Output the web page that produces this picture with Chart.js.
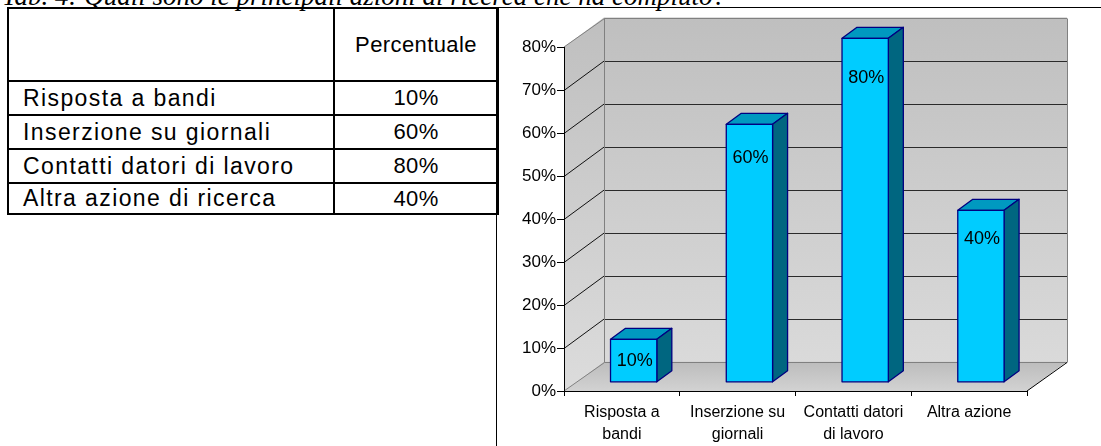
<!DOCTYPE html>
<html>
<head>
<meta charset="utf-8">
<script src="https://cdn.jsdelivr.net/npm/chart.js@4.4.1/dist/chart.umd.min.js"></script>
<style>
    body { margin: 0; width: 1101px; height: 446px; overflow: hidden; background: #fff; position: relative; }
    #title { position: absolute; left: 2px; top: -19px; font: italic 27px 'Liberation Serif', 'Times New Roman', serif; white-space: nowrap; color: #000; }
    #topLine { position: absolute; left: 497px; right: 0; top: 7px; border-top: 1px solid #000; }
    #frameLine { position: absolute; left: 496px; top: 8px; height: 438px; border-left: 1px solid #000; }
    #tab { position: absolute; left: 7px; top: 7px; border-collapse: collapse; table-layout: fixed; font: 22px 'Liberation Sans', Arial, sans-serif; color: #000; }
    #tab td { border: 2px solid #000; padding: 0; vertical-align: middle; white-space: nowrap; }
    #tab td.name { padding-left: 14px; font-size: 23px; letter-spacing: 1.4px; }
    #tab td.val { text-align: center; letter-spacing: 0.4px; }
    #chartBox { position: absolute; left: 497px; top: 8px; width: 604px; height: 438px; }
</style>
</head>
<body>
<div id="title"></div>
<div id="topLine"></div>
<table id="tab"></table>
<div id="frameLine"></div>
<div id="chartBox"><canvas id="myChart" width="604" height="438"></canvas></div>

<script>
const TITLE = 'Tab. 4: Quali sono le principali azioni di ricerca che ha compiuto?'
const columnHeader = 'Percentuale'
const tableRows = ['Risposta a bandi', 'Inserzione su giornali', 'Contatti datori di lavoro', 'Altra azione di ricerca']
const categories = [['Risposta a', 'bandi'], ['Inserzione su', 'giornali'], ['Contatti datori', 'di lavoro'], ['Altra azione']]
const percentValues = [10, 60, 80, 40]
const yTicks = [0, 10, 20, 30, 40, 50, 60, 70, 80]

document.getElementById('title').textContent = TITLE

// build the table on the left
let tab = document.getElementById('tab')
let html = '<colgroup><col style="width:326px"><col style="width:164px"></colgroup>'
html += '<tr style="height:73px"><td></td><td class="val">' + columnHeader + '</td></tr>'
for (let i = 0; i < tableRows.length; i++) {
    let h = i === tableRows.length - 1 ? 31 : 34
    html += '<tr style="height:' + h + 'px"><td class="name">' + tableRows[i] + '</td><td class="val">' + percentValues[i] + '%</td></tr>'
}
tab.innerHTML = html

// 3d look: walls, floor and boxes
const WALL_DX = 40
const WALL_DY = 29.4
const BAR_SHIFT_X = 11.8
const BAR_SHIFT_Y = 8.7
const BAR_DX = 15
const BAR_DY = 11
const FONT = '"Liberation Sans", Arial, sans-serif'

function poly(ctx, pts, fill, stroke) {
    ctx.beginPath()
    ctx.moveTo(pts[0][0], pts[0][1])
    for (let i = 1; i < pts.length; i++) ctx.lineTo(pts[i][0], pts[i][1])
    ctx.closePath()
    if (fill) { ctx.fillStyle = fill; ctx.fill() }
    if (stroke) { ctx.strokeStyle = stroke; ctx.stroke() }
}

function line(ctx, x1, y1, x2, y2, color) {
    ctx.beginPath()
    ctx.moveTo(x1, y1)
    ctx.lineTo(x2, y2)
    ctx.strokeStyle = color
    ctx.stroke()
}

const walls3d = {
    id: 'walls3d',
    beforeDraw(chart) {
        const ctx = chart.ctx
        const ys = chart.scales.y
        const left = chart.chartArea.left
        const right = chart.chartArea.right
        const top = ys.getPixelForValue(yTicks[yTicks.length - 1])
        const bottom = ys.getPixelForValue(0)
        ctx.save()
        ctx.lineWidth = 1

        let g = ctx.createLinearGradient(0, top - WALL_DY, 0, bottom)
        g.addColorStop(0, '#bfbfbf')
        g.addColorStop(1, '#dcdcdc')
        // side wall
        poly(ctx, [[left, top], [left + WALL_DX, top - WALL_DY], [left + WALL_DX, bottom - WALL_DY], [left, bottom]], g)
        // back wall
        poly(ctx, [[left + WALL_DX, top - WALL_DY], [right + WALL_DX, top - WALL_DY], [right + WALL_DX, bottom - WALL_DY], [left + WALL_DX, bottom - WALL_DY]], g)
        // floor
        let fg = ctx.createLinearGradient(0, bottom - WALL_DY, 0, bottom)
        fg.addColorStop(0, '#bcbcbc')
        fg.addColorStop(1, '#d2d2d2')
        poly(ctx, [[left, bottom], [right, bottom], [right + WALL_DX, bottom - WALL_DY], [left + WALL_DX, bottom - WALL_DY]], fg)

        // grid lines on the walls
        yTicks.forEach(function (v) {
            if (v === 0 || v === yTicks[yTicks.length - 1]) return
            let py = Math.round(ys.getPixelForValue(v)) + 0.5
            line(ctx, left, py, left + WALL_DX, py - WALL_DY, '#111')
            line(ctx, left + WALL_DX, Math.round(py - WALL_DY) + 0.5, right + WALL_DX, Math.round(py - WALL_DY) + 0.5, '#2a2a2a')
        })

        // edges
        let bx = Math.round(left + WALL_DX) + 0.5
        let tY = Math.round(top - WALL_DY) + 0.5
        let bY = Math.round(bottom - WALL_DY) + 0.5
        line(ctx, left, top, bx, tY, '#808080')
        line(ctx, bx, tY, right + WALL_DX, tY, '#808080')
        line(ctx, Math.round(right + WALL_DX) + 0.5, tY, Math.round(right + WALL_DX) + 0.5, bY, '#808080')
        line(ctx, bx, tY, bx, bY, '#808080')
        line(ctx, bx, bY, right + WALL_DX, bY, '#808080')
        line(ctx, left, bottom, bx, bY, '#808080')
        line(ctx, right, bottom, right + WALL_DX, bY, '#000')
        ctx.restore()
    },
    afterDatasetsDraw(chart) {
        const ctx = chart.ctx
        const meta = chart.getDatasetMeta(0)
        ctx.save()
        ctx.lineWidth = 1.3
        ctx.lineJoin = 'round'
        meta.data.forEach(function (bar, i) {
            let w = bar.width
            let x0 = bar.x - w / 2 + BAR_SHIFT_X
            let top = bar.y - BAR_SHIFT_Y
            let base = bar.base - BAR_SHIFT_Y
            // top face
            poly(ctx, [[x0, top], [x0 + w, top], [x0 + w + BAR_DX, top - BAR_DY], [x0 + BAR_DX, top - BAR_DY]], '#0099c0', '#000080')
            // side face
            poly(ctx, [[x0 + w, top], [x0 + w + BAR_DX, top - BAR_DY], [x0 + w + BAR_DX, base - BAR_DY], [x0 + w, base]], '#006680', '#000080')
            // front face
            poly(ctx, [[x0, top], [x0 + w, top], [x0 + w, base], [x0, base]], '#00ccff', '#000080')

            // value label, sits lower on taller bars
            ctx.fillStyle = '#000'
            ctx.font = '18px ' + FONT
            ctx.textAlign = 'center'
            ctx.textBaseline = 'middle'
            ctx.fillText(percentValues[i] + '%', x0 + w / 2 + 1, top + 18.7 + 0.258 * percentValues[i])
        })
        ctx.restore()
    }
}

let ctx = document.getElementById('myChart')
let myChart = new Chart(ctx, {
    type: 'bar',
    data: {
        labels: categories,
        datasets: [{
            data: percentValues,
            backgroundColor: 'rgba(0,0,0,0)',
            borderWidth: 0,
            barPercentage: 0.4,
            categoryPercentage: 1
        }]
    },
    options: {
        responsive: false,
        animation: false,
        devicePixelRatio: 1,
        layout: { padding: { top: 39, right: 74, left: 0, bottom: 0 } },
        plugins: { legend: { display: false }, tooltip: { enabled: false } },
        scales: {
            y: {
                min: 0,
                max: 80,
                afterFit: function (s) { s.width = 67 },
                afterBuildTicks: function (s) { s.ticks = yTicks.map(v => ({ value: v })) },
                ticks: {
                    callback: v => v + '%',
                    color: '#000',
                    padding: 1,
                    font: { family: FONT, size: 17 }
                },
                grid: { drawOnChartArea: false, tickLength: 7, color: '#000' },
                border: { color: '#000' }
            },
            x: {
                afterFit: function (s) { s.height = 55 },
                ticks: {
                    color: '#000',
                    padding: 5,
                    maxRotation: 0,
                    font: { family: FONT, size: 16, lineHeight: 1.4 }
                },
                grid: { drawOnChartArea: false, tickLength: 5, color: '#000', offset: true },
                border: { color: '#000' }
            }
        }
    },
    plugins: [walls3d]
});
</script>
</body>
</html>
